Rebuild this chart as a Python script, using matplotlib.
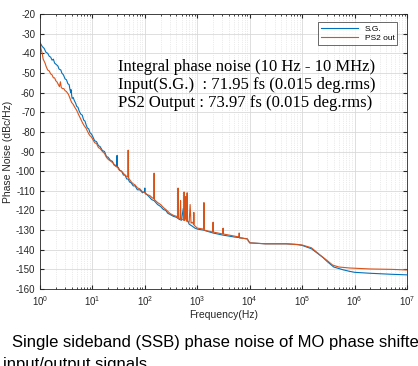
import matplotlib
matplotlib.use("Agg")
import matplotlib.pyplot as plt
from matplotlib.ticker import LogLocator, NullFormatter

plt.rcParams['axes.unicode_minus'] = False
plt.rcParams['font.family'] = ['Liberation Sans', 'DejaVu Sans']

# S.G. (input) phase noise
sg_freq = [1, 1.1, 1.2, 1.3, 1.4, 1.5, 1.6, 1.7, 1.8, 1.9, 2.0, 2.2, 2.3, 2.5, 2.6,
           2.8, 3.0, 3.2, 3.4, 3.6, 3.7, 3.85, 3.9, 4.0, 4.1, 4.3, 4.5, 4.8, 5, 5.3,
           5.6, 6, 6.4, 6.8, 7.2, 7.6, 8, 8.5, 9, 9.5, 10, 11, 12, 13, 14, 15.5, 17,
           18.5, 20, 22, 24, 26, 28, 29.2, 29.5, 29.8, 31, 33, 36, 39, 42, 45, 48,
           51, 55, 60, 65, 72, 80, 90, 98, 100, 102, 110, 120, 135, 150, 175, 200,
           225, 250, 275, 300, 350, 400, 450, 500, 540, 560, 580, 600, 620, 650,
           700, 800, 900, 1000, 1300, 2000, 3000, 5000, 7000, 9000, 10000,
           20000, 50000, 80000, 1e5, 1.5e5, 2e5, 2.5e5, 3e5, 4e5, 6e5, 8e5, 1e6,
           2e6, 5e6, 1e7]
sg_db = [-34.5, -36.5, -37.5, -39.5, -40, -41.5, -42, -43.5, -43, -45, -45.5, -46.5,
         -48, -48.5, -50, -51, -53, -53.5, -55.5, -56, -58, -60, -58.5, -61, -63,
         -62.5, -64, -65.5, -67, -67.5, -69.5, -71, -71.5, -74, -74.5, -76.5, -78,
         -78.5, -80.5, -81, -82, -84.5, -85, -87, -87.5, -89.5, -90, -92.5, -93,
         -94.5, -95, -97, -97, -97.5, -92, -98, -98, -99.5, -100, -102, -102, -104,
         -104, -105.5, -106, -107.5, -107.5, -109.5, -109.5, -111, -110.5, -108.6,
         -111.5, -112, -113, -114.5, -115, -117, -118, -119.5, -120, -121.5, -122,
         -123, -123.5, -124.5, -125, -119, -124, -115, -123, -117, -125, -127, -128,
         -129, -129.5, -130, -131.5, -132.5, -133.5, -134, -134.5, -136.5, -137,
         -137, -137.3, -137.8, -139.5, -142, -144, -146, -148.8, -150.2, -151,
         -151.5, -152, -152.5, -152.8]

# PS2 output phase noise
ps2_freq = [1, 1.05, 1.1, 1.15, 1.25, 1.3, 1.4, 1.5, 1.6, 1.7, 1.8, 1.9, 2.0, 2.1, 2.2,
            2.3, 2.35, 2.45, 2.55, 2.7, 2.85, 3.0, 3.2, 3.5, 3.75, 4, 4.3, 4.6, 5,
            5.4, 6, 6.5, 7, 7.5, 8, 8.5, 9, 9.5, 10, 11, 12, 13, 14, 15.5, 17, 18.5,
            20, 22.5, 25, 27.5, 30, 32.5, 35, 37.5, 40, 44, 47, 48, 49, 52, 55, 60,
            65, 72, 80, 90, 100, 112, 125, 137, 148, 150, 152, 175, 200, 225, 250,
            275, 300, 350, 400, 425, 430, 435, 470, 480, 490, 520, 555, 560, 565,
            590, 600, 610, 635, 640, 645, 700, 730, 760, 800, 850, 860, 870, 1000,
            1320, 1340, 1360, 1600, 1980, 2000, 2020, 2500, 3050, 3100, 3150, 5000,
            6200, 6300, 6400, 9000, 9200, 9400, 10000, 20000, 50000, 1e5, 1.5e5,
            2.2e5, 3e5, 3.8e5, 5e5, 8e5, 2e6, 5e6, 1e7]
ps2_db = [-35, -38, -40, -43, -45, -46.5, -48.5, -49, -50.5, -51, -52.5, -52.5, -54,
          -54.5, -55.5, -56.5, -57, -54.5, -57.5, -58, -58, -59, -59.5, -61, -63, -65,
          -66, -67.5, -69, -71, -73.5, -75.5, -77, -78, -79.5, -81, -82, -82.5, -83.5,
          -85.5, -86, -88, -88.5, -90, -91, -93, -94, -95, -96, -97.5, -98, -99.5,
          -100, -100.5, -101.5, -102.5, -103, -89.3, -103.5, -104.5, -105.5, -106.5,
          -107, -108.5, -109, -110.5, -111, -112, -112.5, -113.5, -114, -101, -114.5,
          -116, -117, -118.5, -119.5, -120.5, -121.5, -122.5, -123, -123.5, -108.6,
          -124, -124, -115, -124.5, -124.5, -125, -110.6, -125, -124, -113, -125,
          -125.5, -111, -125.5, -126, -117, -126.5, -126, -127, -121, -127.5, -129,
          -129.5, -116, -130, -130.5, -131, -126, -131, -131.5, -132, -129, -132,
          -133, -133.5, -131.5, -134, -134.5, -135, -135.5, -136.5, -137, -137,
          -137.6, -139, -142.7, -145.5, -147.8, -148.8, -149.3, -149.8, -150, -150.3]

fig = plt.figure(figsize=(4.18, 3.66), dpi=100)
ax = fig.add_axes([40 / 418, 1 - 289 / 366, 367 / 418, 275 / 366])

ax.semilogx(sg_freq, sg_db, color='#0072BD', lw=0.8, label='S.G.')
ax.semilogx(ps2_freq, ps2_db, color='#D95319', lw=0.8, label='PS2 out')

ax.set_xlim(1, 1e7)
ax.set_ylim(-160, -20)
ax.set_yticks(range(-160, -19, 10))
ax.xaxis.set_major_locator(LogLocator(base=10, numticks=10))
ax.xaxis.set_minor_locator(LogLocator(base=10, subs=range(2, 10), numticks=100))
ax.xaxis.set_minor_formatter(NullFormatter())

ax.grid(True, which='major', color='#d9d9d9', lw=0.6)
ax.grid(True, which='minor', axis='x', color='#d9d9d9', lw=0.5, ls=':')
ax.set_axisbelow(True)

ax.tick_params(which='both', direction='in', top=True, right=True,
               labelsize=7, colors='#262626', length=3)
ax.tick_params(which='minor', length=1.5)
for s in ax.spines.values():
    s.set_color('#262626')
    s.set_linewidth(0.6)

ax.set_xlabel('Frequency(Hz)', fontsize=7.5, color='#262626', labelpad=2)
ax.set_ylabel('Phase Noise (dBc/Hz)', fontsize=7.5, color='#262626')
ax.yaxis.set_label_coords(-27 / 367, 0.5)

leg = ax.legend(loc='upper right', fontsize=6, frameon=True, fancybox=False,
                edgecolor='#262626', handlelength=4.5, borderpad=0.3,
                labelspacing=0.2, bbox_to_anchor=(0.985, 0.985))
leg.get_frame().set_linewidth(0.6)

note = ('Integral phase noise (10 Hz - 10 MHz)\n'
        'Input(S.G.)  : 71.95 fs (0.015 deg.rms)\n'
        'PS2 Output : 73.97 fs (0.015 deg.rms)')
fig.text(118 / 418, 1 - 59 / 366, note, family='Liberation Serif', fontsize=12,
         va='top', ha='left', linespacing=1.18)

fig.text(12 / 418, 1 - 343 / 366,
         'Single sideband (SSB) phase noise of MO phase shifter',
         fontsize=12, va='center', ha='left')
fig.text(3 / 418, 1 - 364 / 366, 'input/output signals',
         fontsize=12, va='center', ha='left')

fig.savefig('out.png', dpi=100)
